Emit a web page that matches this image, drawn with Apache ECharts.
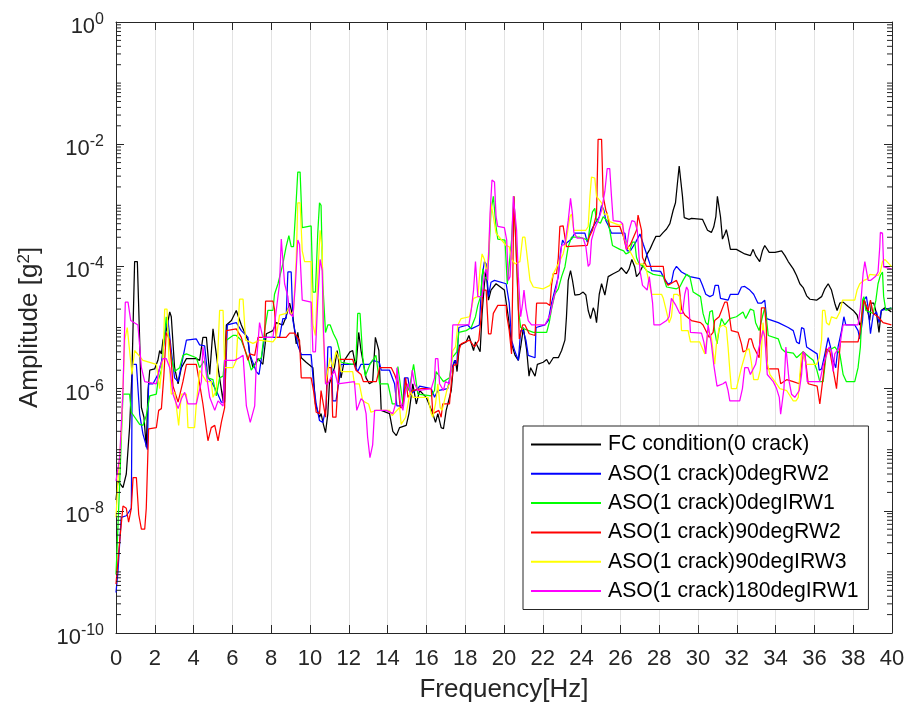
<!DOCTYPE html>
<html>
<head>
<meta charset="utf-8">
<script src="https://cdn.jsdelivr.net/npm/echarts@6/dist/echarts.min.js"></script>
<style>
html, body { margin: 0; padding: 0; background: #ffffff; }
#chart { width: 910px; height: 716px; }
</style>
</head>
<body>
<div id="chart"></div>
<script>
// Spectrum amplitude per test condition: [frequency Hz, amplitude g^2]
const seriesNames = [
  'FC condition(0 crack)',
  'ASO(1 crack)0degRW2',
  'ASO(1 crack)0degIRW1',
  'ASO(1 crack)90degRW2',
  'ASO(1 crack)90degIRW3',
  'ASO(1 crack)180degIRW1'
];
const seriesColors = ['#000000', '#0000ff', '#00ff00', '#ff0000', '#ffff00', '#ff00ff'];

const fcCondition = [
[0.0,1.5e-8],[0.10,3.1e-8],[0.36,2.4e-8],[0.53,4.0e-8],[0.70,2.3e-7],[0.82,1.7e-6],[0.96,1.2e-4],[1.10,1.2e-4],[1.22,6.2e-6],[1.31,4.9e-7],[1.44,3.4e-7],[1.56,1.1e-7],[1.65,9.3e-7],[1.74,2.0e-6],[1.99,2.1e-6],[2.16,2.9e-6],[2.25,4.2e-6],[2.34,3.7e-6],[2.42,6.2e-6],[2.59,8.9e-6],[2.77,1.8e-5],[2.85,1.5e-5],[3.02,2.2e-6],[3.20,1.2e-6],[3.37,2.2e-6],[3.63,3.1e-6],[4.14,3.1e-6],[4.31,2.9e-6],[4.48,6.9e-6],[4.66,6.9e-6],[4.83,1.7e-6],[5.00,9.5e-6],[5.09,1.0e-5],[5.26,2.2e-6],[5.52,6.3e-7],[5.69,1.1e-5],[5.95,1.3e-5],[6.20,1.9e-5],[6.29,1.8e-5],[6.46,1.1e-5],[6.80,6.2e-6],
[6.89,3.7e-6],[7.06,2.2e-6],[7.32,3.1e-6],[7.57,2.5e-6],[7.75,7.9e-6],[8.09,8.9e-6],[8.26,1.2e-5],[8.60,1.1e-5],[8.77,1.5e-5],[8.95,2.5e-5],[9.03,2.6e-5],[9.12,1.5e-5],[9.29,5.4e-6],[9.37,8.3e-6],[9.55,3.2e-6],[9.80,2.7e-6],[10.15,2.2e-6],[10.28,5.6e-7],[10.49,3.4e-7],[10.57,3.9e-7],[10.69,2.6e-7],[10.80,1.9e-7],[10.92,3.9e-7],[11.00,1.2e-6],[11.26,2.2e-6],[11.40,4.2e-6],[11.60,1.5e-6],[11.77,2.9e-6],[12.06,4.0e-6],[12.20,4.2e-6],[12.37,2.2e-6],[12.51,8.3e-6],[12.63,4.2e-6],[12.89,1.5e-6],[13.06,1.2e-6],[13.23,1.3e-6],[13.37,6.9e-6],[13.55,4.2e-6],[13.67,4.4e-7],
[14.10,3.9e-7],[14.27,2.0e-7],[14.45,1.7e-7],[14.62,2.3e-7],[14.96,2.5e-7],[15.10,3.9e-7],[15.30,1.2e-6],[15.48,5.6e-7],[15.65,9.3e-7],[15.99,7.2e-7],[16.33,3.9e-7],[16.47,2.8e-7],[16.59,3.9e-7],[16.76,2.3e-7],[16.88,2.2e-7],[17.02,4.4e-7],[17.28,9.3e-7],[17.40,2.5e-6],[17.50,2.9e-6],[17.58,1.9e-6],[17.70,5.1e-6],[18.05,5.8e-6],[18.19,7.4e-6],[18.43,4.2e-6],[18.53,5.8e-6],[18.77,4.0e-6],[18.87,1.7e-5],[18.99,5.2e-5],[19.08,8.6e-5],[19.20,2.8e-5],[19.33,4.1e-5],[19.59,5.2e-5],[20.02,4.1e-5],
[20.22,1.5e-5],[20.39,5.4e-6],[20.57,3.5e-6],[20.74,2.9e-6],[20.86,4.8e-6],[21.00,1.0e-5],[21.17,4.2e-6],[21.29,1.6e-6],[21.37,2.2e-6],[21.60,1.6e-6],[21.72,2.5e-6],[22.02,2.7e-6],[22.20,3.0e-6],[22.33,2.5e-6],[22.54,3.2e-6],[22.80,3.2e-6],[22.97,4.2e-6],[23.14,6.2e-6],[23.22,1.5e-5],[23.31,5.9e-5],[23.43,8.5e-5],[23.53,5.9e-5],[23.65,3.4e-5],[23.91,3.5e-5],[24.08,3.8e-5],[24.22,3.4e-5],[24.34,1.9e-5],[24.46,1.4e-5],[24.60,2.1e-5],[24.68,1.8e-5],[24.77,1.2e-5],[24.91,3.5e-5],[25.03,5.2e-5],[25.20,3.4e-5],[25.37,6.8e-5],[25.63,7.6e-5],[25.93,8.5e-5],[26.05,9.5e-5],[26.31,7.6e-5],[26.45,9.1e-5],[26.59,1.3e-4],[26.74,9.8e-5],[26.83,6.8e-5],[26.96,7.6e-5],
[27.26,1.2e-4],[27.38,1.6e-4],[27.52,1.9e-4],[27.69,2.5e-4],[27.83,3.1e-4],[28.03,3.1e-4],[28.21,3.6e-4],[28.38,4.1e-4],[28.55,5.0e-4],[28.72,8.3e-4],[28.84,1.1e-3],[28.94,2.3e-3],[29.03,4.4e-3],[29.11,4.3e-3],[29.20,1.4e-3],[29.29,6.3e-4],[29.54,5.9e-4],[29.66,6.1e-4],[30.23,5.9e-4],[30.49,3.9e-4],[30.69,3.6e-4],[30.81,4.4e-4],[30.92,6.5e-4],[31.00,1.4e-3],[31.07,1.4e-3],[31.16,6.5e-4],[31.26,2.8e-4],[31.38,3.4e-4],[31.46,4.0e-4],[31.55,3.0e-4],[31.67,1.9e-4],[31.98,1.9e-4],[32.41,1.6e-4],[32.70,1.5e-4],[32.84,1.9e-4],[32.97,1.5e-4],[33.18,1.2e-4],[33.32,1.8e-4],[33.44,2.2e-4],
[33.67,1.7e-4],[33.97,1.7e-4],[34.31,1.8e-4],[34.48,1.5e-4],[34.65,1.2e-4],[34.91,9.1e-5],[35.08,7.1e-5],[35.25,5.2e-5],[35.42,4.5e-5],[35.60,3.3e-5],[35.77,2.9e-5],[36.11,2.8e-5],[36.37,3.2e-5],[36.54,4.3e-5],[36.71,5.2e-5],[36.88,4.1e-5],[37.05,2.5e-5],[37.17,1.9e-5],[37.31,2.5e-5],[37.48,2.6e-5],[37.74,2.2e-5],[38.00,1.9e-5],[38.20,1.6e-5],[38.34,1.1e-5],[38.43,1.2e-5],[38.55,3.0e-5],[38.65,3.2e-5],[38.77,1.7e-5],[38.85,1.3e-5],[38.94,2.5e-5],[39.06,2.5e-5],[39.20,1.7e-5],[39.33,8.3e-6],[39.45,1.9e-5],[39.63,2.1e-5],[39.97,1.8e-5]
];

const aso0degRW2 = [
[0.0,4.6e-10],[0.10,1.0e-9],[0.27,7.8e-9],[0.53,8.3e-9],[0.79,1.1e-8],[0.84,2.5e-6],[1.05,2.5e-6],[1.22,3.8e-7],[1.39,1.8e-7],[1.62,1.0e-7],[1.68,1.2e-6],[1.91,1.2e-6],[2.16,1.7e-6],[2.34,2.7e-6],[2.59,1.1e-5],[2.68,1.3e-5],[2.85,4.2e-6],[3.02,1.5e-6],[3.20,1.3e-6],[3.45,3.2e-6],[3.63,6.2e-6],[4.14,6.5e-6],[4.31,5.2e-6],[4.57,5.0e-6],[4.74,1.5e-6],[4.91,1.3e-6],[5.17,9.3e-7],[5.43,6.0e-7],[5.60,6.0e-7],[5.74,1.1e-5],[6.20,1.2e-5],[6.46,8.9e-6],[6.80,6.9e-6],
[6.89,3.7e-6],[7.23,1.9e-6],[7.37,1.7e-6],[7.66,6.9e-6],[8.43,6.9e-6],[8.60,1.4e-5],[8.77,1.4e-5],[8.86,8.1e-5],[9.03,8.1e-5],[9.12,1.3e-5],[9.37,5.1e-6],[9.55,3.6e-6],[10.06,3.6e-6],[10.18,1.2e-6],[10.32,5.6e-7],[10.49,3.0e-7],[10.66,2.8e-7],[10.83,4.9e-7],[10.92,4.8e-6],[11.09,4.8e-6],[11.17,6.3e-7],[11.34,6.3e-7],[11.52,1.5e-6],[11.60,2.5e-6],[12.29,2.5e-6],[12.46,1.9e-6],[12.63,2.5e-6],[13.06,2.5e-6],[13.23,2.9e-6],[13.57,2.7e-6],
[13.67,2.0e-6],[14.10,2.0e-6],[14.36,1.2e-6],[14.48,5.2e-7],[14.79,5.2e-7],[14.87,1.5e-6],[15.05,1.5e-6],[15.17,8.1e-7],[15.56,1.0e-6],[15.65,1.1e-6],[16.25,1.0e-6],[16.42,7.2e-7],[16.59,9.3e-7],[17.10,1.0e-6],[17.28,2.0e-6],[17.45,2.9e-6],[17.57,2.5e-6],[17.67,1.0e-5],[18.13,1.1e-5],[18.31,9.5e-6],[18.73,1.1e-5],[18.87,6.8e-5],[18.99,1.2e-4],[19.08,1.1e-4],[19.20,3.2e-5],[19.33,5.5e-5],[19.51,5.9e-5],[20.11,5.2e-5],
[20.27,2.5e-5],[20.39,6.2e-6],[20.57,4.0e-6],[20.74,2.9e-6],[20.86,8.9e-6],[20.99,8.9e-6],[21.13,6.2e-6],[21.25,3.5e-6],[21.60,3.2e-6],[21.65,1.0e-5],[22.11,1.1e-5],[22.28,1.3e-5],[22.45,2.5e-5],[22.62,4.1e-5],[22.80,6.8e-5],[22.92,1.8e-4],[23.02,2.7e-4],[23.14,2.3e-4],[23.48,2.8e-4],[23.65,3.5e-4],[24.17,3.5e-4],[24.29,2.5e-4],[24.43,3.5e-4],[24.60,4.5e-4],[24.91,6.5e-4],[25.03,1.0e-3],[25.15,8.3e-4],[25.25,5.6e-4],[25.37,4.7e-4],[25.54,3.5e-4],[26.23,3.5e-4],[26.35,1.8e-4],[26.52,1.8e-4],[26.79,2.5e-4],
[27.01,3.4e-4],[27.18,2.3e-4],[27.35,1.6e-4],[27.52,1.1e-4],[27.61,8.5e-5],[28.07,8.3e-5],[28.21,6.8e-5],[28.46,5.1e-5],[28.63,5.5e-5],[28.75,8.5e-5],[28.89,1.0e-4],[29.15,8.1e-5],[29.58,6.8e-5],[30.09,6.3e-5],[30.23,4.9e-5],[30.40,3.5e-5],[30.61,3.2e-5],[30.78,3.4e-5],[30.88,4.9e-5],[31.05,4.9e-5],[31.16,3.0e-5],[31.55,2.8e-5],[31.67,3.5e-5],[32.07,3.5e-5],[32.24,4.6e-5],[32.41,4.7e-5],[32.67,4.1e-5],[32.87,3.5e-5],[33.09,2.5e-5],[33.27,2.5e-5],[33.44,2.8e-5],
[33.54,1.4e-5],[34.14,1.2e-5],[34.65,1.0e-5],[34.91,8.9e-6],[35.08,5.8e-6],[35.22,5.4e-6],[35.34,1.0e-5],[35.46,9.5e-6],[35.60,4.8e-6],[36.14,3.7e-6],[36.25,2.0e-6],[36.37,2.1e-6],[36.54,3.7e-6],[36.71,6.8e-6],[36.83,4.8e-6],[36.97,2.9e-6],[37.10,2.2e-6],[37.22,4.8e-6],[37.40,8.9e-6],[37.52,1.5e-5],[37.62,1.1e-5],[38.08,1.1e-5],[38.25,8.9e-6],[38.34,6.5e-6],[38.48,1.3e-5],[38.55,2.8e-5],[38.68,3.2e-5],[38.77,2.1e-5],[38.89,7.9e-6],[39.03,1.6e-5],[39.20,1.8e-5],[39.33,1.2e-5],[39.45,1.9e-5],[39.97,2.1e-5]
];

const aso0degIRW1 = [
[0.0,9.1e-10],[0.19,2.8e-8],[0.27,1.4e-7],[0.36,8.1e-7],[0.70,8.1e-7],[0.79,4.1e-7],[1.22,2.6e-7],[1.39,2.5e-7],[1.56,3.6e-7],[1.74,7.6e-7],[2.08,8.1e-7],[2.16,1.3e-6],[2.34,2.0e-6],[2.59,1.5e-5],[2.68,1.4e-5],[2.85,3.2e-6],[3.02,1.9e-6],[3.28,2.2e-6],[3.45,3.5e-6],[3.63,3.7e-6],[4.14,3.2e-6],[4.31,2.2e-6],[4.57,2.9e-6],[4.74,1.5e-6],[5.00,1.4e-6],[5.17,7.6e-7],[5.34,1.5e-6],[5.52,1.6e-6],[5.69,6.2e-6],[6.03,7.4e-6],[6.20,7.4e-6],[6.46,6.2e-6],[6.80,3.2e-6],
[6.97,2.0e-6],[7.32,2.9e-6],[7.49,3.2e-6],[7.66,8.9e-6],[7.83,1.9e-5],[8.09,1.9e-5],[8.17,3.5e-5],[8.35,5.2e-5],[8.60,1.1e-4],[8.77,2.1e-4],[8.91,3.2e-4],[9.03,2.1e-4],[9.15,2.1e-4],[9.29,1.2e-3],[9.37,3.5e-3],[9.49,3.5e-3],[9.60,4.3e-4],[10.06,4.6e-4],[10.15,3.8e-5],[10.28,3.8e-5],[10.40,3.5e-4],[10.49,1.1e-3],[10.57,1.0e-3],[10.66,5.2e-5],[10.80,8.3e-6],[10.92,1.1e-5],[11.04,1.1e-5],[11.21,7.9e-6],[11.38,6.2e-6],[11.52,4.2e-6],[11.60,2.7e-6],[12.20,2.5e-6],[12.37,2.9e-6],[12.46,1.7e-5],[12.58,1.7e-5],[12.72,3.2e-6],[12.85,1.6e-6],[13.09,2.5e-6],[13.40,3.5e-6],
[13.59,1.2e-6],[14.02,1.2e-6],[14.24,5.6e-7],[14.41,5.6e-7],[14.53,2.3e-6],[14.62,2.3e-6],[14.79,5.6e-7],[14.96,1.2e-6],[15.10,9.3e-7],[15.34,2.5e-6],[15.44,2.5e-6],[15.56,8.1e-7],[16.25,7.6e-7],[16.42,9.3e-7],[16.50,1.9e-6],[16.59,1.9e-6],[16.88,1.3e-6],[17.19,1.5e-6],[17.33,3.2e-6],[17.57,4.0e-6],[17.67,8.3e-6],[18.05,8.9e-6],[18.31,1.0e-5],[18.53,1.5e-5],[18.65,2.3e-5],[18.79,3.2e-5],[18.91,9.1e-5],[18.99,6.8e-5],[19.11,6.3e-5],[19.21,1.3e-4],[19.33,8.3e-4],[19.45,1.4e-3],[19.59,4.5e-4],[19.68,2.8e-4],[20.05,2.7e-4],
[20.17,5.1e-5],[20.27,5.2e-5],[20.39,2.7e-4],[20.51,1.4e-3],[20.62,2.1e-4],[20.74,2.0e-5],[20.86,1.0e-5],[21.51,8.3e-6],[22.20,8.3e-6],[22.33,1.2e-5],[22.45,2.0e-5],[22.62,3.5e-5],[22.80,4.3e-5],[22.97,6.8e-5],[23.14,9.8e-5],[23.31,2.1e-4],[23.48,3.0e-4],[23.91,3.0e-4],[24.34,2.7e-4],[24.43,4.7e-4],[24.56,7.8e-4],[24.68,8.9e-4],[24.77,5.6e-4],[24.97,5.1e-4],[25.11,6.5e-4],[25.37,5.4e-4],[25.45,5.6e-4],[25.59,2.2e-4],[25.97,1.9e-4],[26.17,1.8e-4],[26.28,1.6e-4],[26.45,1.7e-4],[26.62,2.5e-4],[26.74,2.5e-4],[26.83,1.4e-4],[26.96,1.1e-4],
[27.18,1.0e-4],[27.35,8.5e-5],[27.69,7.4e-5],[28.21,6.9e-5],[28.38,4.6e-5],[28.89,4.3e-5],[29.06,4.6e-5],[29.23,5.9e-5],[29.41,7.4e-5],[29.58,6.8e-5],[29.75,3.8e-5],[30.13,3.2e-5],[30.26,1.7e-5],[30.40,1.2e-5],[30.52,1.1e-5],[30.61,1.8e-5],[30.74,1.9e-5],[30.86,8.9e-6],[30.98,5.4e-6],[31.08,8.9e-6],[31.21,1.4e-5],[31.38,1.1e-5],[31.64,1.4e-5],[31.98,1.5e-5],[32.32,1.8e-5],[32.46,1.4e-5],[32.70,2.0e-5],[32.87,1.9e-5],[32.97,1.2e-5],[33.15,8.9e-6],[33.32,1.5e-5],[33.44,2.1e-5],[33.52,1.5e-5],
[33.62,7.4e-6],[34.14,6.5e-6],[34.31,4.5e-6],[34.48,4.0e-6],[34.91,3.8e-6],[35.08,3.2e-6],[35.42,4.0e-6],[35.77,3.2e-6],[35.94,2.9e-6],[36.11,2.1e-6],[36.28,1.3e-6],[36.45,1.3e-6],[36.62,4.0e-6],[37.05,4.8e-6],[37.31,3.7e-6],[37.48,1.7e-6],[37.65,1.3e-6],[38.08,1.3e-6],[38.25,2.2e-6],[38.37,4.8e-6],[38.48,2.8e-5],[38.55,3.2e-5],[38.65,1.9e-5],[39.03,1.7e-5],[39.17,2.8e-5],[39.28,5.2e-5],[39.40,7.1e-5],[39.51,8.1e-5],[39.57,3.2e-5],[39.68,1.9e-5],[39.97,2.1e-5]
];

const aso90degRW2 = [
[0.0,6.3e-10],[0.19,3.2e-9],[0.36,1.2e-8],[0.53,1.1e-8],[0.65,6.5e-9],[0.79,1.1e-8],[0.88,3.5e-8],[1.05,3.5e-8],[1.17,8.7e-9],[1.31,5.0e-9],[1.48,5.0e-9],[1.56,1.1e-8],[1.68,2.2e-7],[2.08,2.3e-7],[2.20,4.4e-7],[2.34,4.7e-7],[2.47,1.7e-6],[2.59,8.3e-6],[2.77,6.2e-6],[2.94,1.1e-6],[3.20,6.0e-7],[3.45,1.3e-6],[3.63,2.5e-6],[4.14,2.5e-6],[4.31,1.2e-6],[4.48,5.6e-7],[4.74,1.4e-7],[4.91,2.3e-7],[5.09,2.5e-7],[5.26,1.4e-7],[5.43,2.8e-7],[5.60,4.9e-7],[5.69,8.9e-6],[6.20,9.5e-6],[6.46,6.9e-6],[6.80,2.9e-6],
[6.89,3.7e-6],[7.15,3.5e-6],[7.32,6.9e-6],[7.66,6.9e-6],[7.71,2.7e-5],[8.09,2.7e-5],[8.17,2.0e-5],[8.26,6.9e-6],[8.77,6.9e-6],[8.95,8.1e-6],[9.20,8.1e-6],[9.46,6.2e-6],[9.55,1.5e-6],[10.06,1.5e-6],[10.18,9.3e-7],[10.32,4.1e-7],[10.49,3.9e-7],[10.57,9.3e-7],[10.80,3.4e-7],[10.92,2.2e-6],[11.09,2.2e-6],[11.17,3.4e-7],[11.34,3.4e-7],[11.52,3.0e-6],[12.20,3.0e-6],[12.37,2.0e-6],[12.63,1.7e-6],[12.75,1.3e-6],[12.97,1.3e-6],
[13.42,1.3e-6],[13.59,2.2e-6],[14.19,2.2e-6],[14.36,1.7e-6],[14.53,1.2e-6],[14.65,4.9e-7],[14.79,4.9e-7],[14.93,1.5e-6],[15.05,7.2e-7],[15.30,9.3e-7],[15.73,1.0e-6],[16.25,1.0e-6],[16.33,3.9e-7],[16.64,4.4e-7],[16.76,3.4e-7],[16.84,5.6e-7],[17.19,5.6e-7],[17.28,1.2e-6],[17.40,2.4e-6],[17.57,2.5e-6],[17.67,4.2e-6],[17.79,5.4e-6],[18.22,6.2e-6],[18.48,4.8e-6],[18.70,6.2e-6],[18.82,1.5e-5],[18.91,4.1e-5],[19.08,4.1e-5],[19.20,7.9e-6],[19.33,7.9e-6],[19.45,1.7e-5],[19.68,2.3e-5],[20.11,2.3e-5],
[20.14,1.6e-5],[20.27,8.9e-6],[20.39,3.7e-6],[20.45,5.2e-5],[20.51,1.4e-3],[20.60,1.4e-3],[20.69,5.9e-5],[20.79,6.5e-6],[20.86,6.5e-6],[20.96,1.1e-5],[21.08,1.1e-5],[21.30,7.9e-6],[21.60,7.4e-6],[21.68,2.5e-5],[22.20,2.5e-5],[22.37,2.3e-5],[22.45,4.9e-5],[22.54,7.6e-5],[22.71,7.6e-5],[22.80,1.4e-4],[22.88,4.5e-4],[23.05,4.6e-4],[23.14,3.0e-4],[23.22,2.1e-4],[24.29,2.2e-4],[24.39,3.0e-4],[24.56,3.9e-4],[24.77,7.2e-4],[24.85,1.2e-2],[25.03,1.2e-2],[25.11,1.4e-3],[25.25,8.3e-4],[25.32,7.2e-4],[25.45,4.5e-4],[25.97,4.5e-4],[26.17,3.0e-4],[26.31,1.9e-4],[26.52,2.3e-4],[26.83,3.9e-4],[26.91,6.9e-4],
[27.01,6.5e-4],[27.09,3.9e-4],[27.14,1.4e-4],[27.35,1.0e-4],[27.95,1.0e-4],[28.21,1.0e-4],[28.29,5.9e-5],[28.46,4.9e-5],[28.72,5.5e-5],[28.89,5.9e-5],[29.03,4.6e-5],[29.15,2.0e-5],[29.32,1.6e-5],[29.66,1.3e-5],[30.13,1.2e-5],[30.26,1.1e-5],[30.40,8.9e-6],[30.57,6.9e-6],[30.78,8.3e-6],[30.86,1.3e-5],[31.09,1.5e-5],[31.38,2.6e-5],[31.50,2.6e-5],[31.60,1.7e-5],[31.72,8.9e-6],[32.07,8.3e-6],[32.24,5.4e-6],[32.32,4.0e-6],[32.49,4.2e-6],[32.63,6.5e-6],[32.75,6.5e-6],[32.87,4.8e-6],[33.15,3.2e-6],[33.27,2.1e-5],[33.44,2.1e-5],[33.52,1.0e-5],
[33.57,2.1e-6],[34.14,2.1e-6],[34.26,1.2e-6],[34.57,1.4e-6],[34.91,1.3e-6],[35.22,1.2e-6],[35.42,4.0e-6],[35.51,3.7e-6],[35.68,1.2e-6],[36.14,1.1e-6],[36.28,5.6e-7],[36.37,5.6e-7],[36.49,2.0e-6],[36.62,4.5e-6],[36.80,4.0e-6],[36.97,2.0e-6],[37.14,1.0e-6],[37.22,1.0e-6],[37.34,5.8e-6],[38.25,5.8e-6],[38.34,7.9e-6],[38.43,1.5e-5],[38.55,2.8e-5],[38.65,2.8e-5],[38.77,1.9e-5],[38.89,2.8e-5],[39.03,1.7e-5],[39.28,1.5e-5],[39.54,1.2e-5],[39.97,1.1e-5]
];

const aso90degIRW3 = [
[0.0,7.8e-9],[0.10,3.1e-8],[0.27,1.8e-7],[0.45,6.2e-6],[0.58,1.0e-5],[0.70,4.2e-6],[0.82,1.7e-6],[0.96,4.2e-6],[1.39,2.9e-6],[2.08,2.5e-6],[2.25,1.0e-6],[2.42,3.2e-6],[2.51,2.0e-5],[2.63,2.0e-5],[2.73,3.2e-6],[2.85,8.1e-7],[3.02,8.7e-7],[3.23,2.5e-7],[3.37,8.1e-7],[3.63,8.1e-7],[3.71,2.3e-7],[4.05,2.3e-7],[4.14,5.6e-7],[4.31,2.0e-6],[4.66,1.3e-6],[4.91,1.3e-6],[5.00,7.2e-7],[5.17,9.3e-7],[5.34,1.9e-5],[5.52,1.9e-5],[5.60,2.2e-6],[6.03,2.2e-6],[6.20,2.9e-6],[6.37,2.9e-5],[6.55,2.9e-5],
[6.68,6.2e-6],[7.06,5.5e-6],[7.40,6.2e-6],[8.09,5.8e-6],[8.26,6.9e-6],[8.43,1.6e-5],[8.77,1.7e-5],[8.91,2.1e-5],[9.03,1.6e-5],[9.15,1.9e-5],[9.29,1.3e-4],[9.37,1.1e-3],[9.49,1.1e-3],[9.60,1.8e-4],[9.72,1.2e-4],[10.06,1.2e-4],[10.15,1.1e-5],[10.28,7.4e-6],[10.40,7.1e-5],[10.52,3.9e-4],[10.63,1.8e-4],[10.69,6.9e-6],[10.80,1.2e-6],[10.92,2.0e-6],[11.04,3.2e-6],[11.17,2.2e-6],[11.34,4.0e-6],[11.52,2.9e-6],[11.60,1.9e-6],[12.20,1.9e-6],[12.29,1.2e-6],[12.54,1.2e-6],[12.72,6.3e-7],[13.02,5.6e-7],[13.14,4.1e-7],
[13.42,4.4e-7],[14.10,4.4e-7],[14.24,3.6e-7],[14.48,4.4e-7],[14.62,4.9e-7],[14.70,2.6e-7],[14.79,2.5e-7],[14.93,3.4e-7],[15.05,5.6e-7],[15.17,9.3e-7],[15.30,7.2e-7],[16.08,7.2e-7],[16.25,3.9e-7],[16.33,3.4e-7],[16.47,5.6e-7],[16.59,1.2e-6],[16.71,4.9e-7],[16.81,4.4e-7],[17.05,9.3e-7],[17.19,1.2e-6],[17.28,2.2e-6],[17.36,4.2e-6],[17.50,4.8e-6],[17.62,1.1e-5],[17.79,1.4e-5],[18.22,1.5e-5],[18.31,2.0e-5],[18.43,3.0e-5],[18.65,3.2e-5],[18.77,9.1e-5],[18.87,1.6e-4],[18.99,1.3e-4],[19.11,7.6e-5],[19.21,1.8e-4],[19.33,1.1e-3],[19.45,6.5e-4],[19.59,3.5e-4],[19.76,3.0e-4],[20.11,2.2e-4],
[20.27,2.1e-4],[20.39,1.3e-4],[20.57,1.1e-4],[20.82,1.2e-4],[20.96,3.0e-4],[21.08,3.0e-4],[21.20,1.4e-4],[21.34,5.9e-5],[21.51,4.6e-5],[22.02,4.3e-5],[22.37,4.9e-5],[22.54,7.6e-5],[22.80,1.1e-4],[23.05,1.6e-4],[23.22,2.8e-4],[23.40,6.5e-4],[23.48,7.2e-4],[23.60,3.9e-4],[24.22,3.9e-4],[24.34,4.5e-4],[24.43,1.4e-3],[24.51,2.9e-3],[24.68,2.8e-3],[24.77,1.4e-3],[25.03,1.1e-3],[25.15,7.2e-4],[25.32,7.2e-4],[25.45,5.4e-4],[25.97,4.7e-4],[26.11,5.0e-4],[26.17,3.0e-4],[26.52,1.7e-4],[26.83,1.1e-4],
[27.18,1.1e-4],[27.35,8.5e-5],[27.52,4.6e-5],[27.61,3.5e-5],[28.12,3.5e-5],[28.21,3.0e-5],[28.38,1.8e-5],[28.51,1.2e-5],[28.63,1.5e-5],[28.75,3.5e-5],[28.93,3.5e-5],[29.06,3.2e-5],[29.15,8.9e-6],[29.49,8.9e-6],[29.61,5.8e-6],[30.09,5.8e-6],[30.35,3.7e-6],[30.52,8.9e-6],[30.69,6.9e-6],[30.86,2.5e-6],[30.95,5.4e-6],[31.09,1.0e-5],[31.29,1.1e-5],[31.46,1.0e-5],[31.55,4.8e-6],[31.64,2.0e-6],[31.72,1.0e-6],[31.98,1.0e-6],[32.24,2.2e-6],[32.49,4.2e-6],[32.63,4.5e-6],[32.75,2.7e-6],[32.87,1.4e-6],[33.09,1.4e-6],[33.21,2.0e-6],
[33.35,1.2e-5],[33.45,6.2e-6],[33.54,2.9e-6],[33.71,1.7e-6],[33.97,1.3e-6],[34.22,1.0e-6],[34.57,9.3e-7],[34.91,6.3e-7],[35.05,6.3e-7],[35.17,7.2e-7],[35.25,1.7e-6],[35.34,3.7e-6],[35.60,2.5e-6],[36.11,2.5e-6],[36.25,3.2e-6],[36.37,6.2e-6],[36.42,1.9e-5],[36.54,1.9e-5],[36.62,1.2e-5],[36.76,1.1e-5],[36.88,1.5e-5],[37.14,1.4e-5],[37.31,1.8e-5],[37.45,2.8e-5],[38.08,2.8e-5],[38.20,4.1e-5],[38.34,5.2e-5],[38.55,5.9e-5],[38.77,6.3e-5],[38.85,7.4e-5],[39.28,7.1e-5],[39.40,8.1e-5],[39.51,1.2e-4],[39.63,1.3e-4],[39.97,1.0e-4]
];

const aso180degIRW1 = [
[0.0,3.1e-8],[0.19,7.4e-8],[0.36,9.3e-7],[0.48,2.6e-5],[0.62,2.6e-5],[0.76,1.3e-5],[1.13,1.1e-5],[1.31,2.2e-6],[1.48,1.3e-6],[2.08,1.2e-6],[2.25,2.2e-6],[2.42,3.1e-6],[2.59,3.1e-6],[2.77,2.2e-6],[2.94,8.1e-7],[3.20,4.7e-7],[3.37,6.8e-7],[3.54,8.7e-7],[3.71,5.6e-7],[4.14,5.6e-7],[4.40,1.3e-6],[4.48,4.8e-6],[4.66,1.7e-6],[4.83,7.2e-7],[5.09,4.4e-7],[5.26,6.3e-7],[5.52,5.2e-7],[5.60,2.9e-6],[6.12,2.9e-6],[6.37,3.2e-6],[6.55,3.5e-6],
[6.72,5.2e-7],[6.92,2.8e-7],[7.15,5.2e-7],[7.23,2.5e-6],[7.40,1.2e-5],[7.49,8.9e-6],[7.57,6.9e-6],[8.09,6.9e-6],[8.26,1.9e-5],[8.43,5.2e-5],[8.52,2.8e-4],[8.60,2.7e-4],[8.69,5.2e-5],[8.86,3.2e-5],[8.95,1.7e-5],[9.12,1.5e-5],[9.25,5.2e-5],[9.37,2.7e-4],[9.46,2.3e-4],[9.60,2.8e-5],[10.06,2.6e-5],[10.15,4.0e-6],[10.28,4.0e-6],[10.40,2.8e-5],[10.52,1.3e-4],[10.63,8.5e-5],[10.69,1.0e-5],[10.80,1.2e-6],[10.92,1.2e-6],[11.26,2.0e-6],[11.43,1.2e-6],[12.29,1.3e-6],[12.41,4.4e-7],[12.63,6.8e-7],[12.75,6.3e-7],[12.89,3.9e-7],[12.97,1.6e-7],[13.09,7.4e-8],[13.23,1.2e-7],
[13.33,4.4e-7],[13.93,4.4e-7],[14.27,3.9e-7],[14.41,5.6e-7],[14.48,2.2e-6],[14.58,2.2e-6],[14.65,6.3e-7],[14.79,4.4e-7],[14.93,9.3e-7],[15.05,1.2e-6],[15.17,8.7e-7],[15.27,2.0e-6],[15.39,1.2e-6],[15.56,9.3e-7],[16.25,1.0e-6],[16.42,1.5e-6],[16.47,3.1e-6],[16.59,3.1e-6],[16.68,1.2e-6],[16.88,9.3e-7],[16.98,1.3e-6],[17.19,1.2e-6],[17.28,2.5e-6],[17.36,1.1e-5],[18.19,1.1e-5],[18.31,1.9e-5],[18.43,4.1e-5],[18.53,1.2e-4],[18.60,1.2e-4],[18.65,3.2e-5],[18.87,3.2e-5],[18.99,7.6e-5],[19.08,9.1e-5],[19.16,5.9e-5],[19.28,7.2e-4],[19.38,2.6e-3],[19.51,2.4e-3],[19.59,6.5e-4],[19.68,4.5e-4],[20.02,4.3e-4],
[20.14,2.7e-4],[20.22,5.9e-5],[20.31,6.8e-5],[20.39,2.1e-4],[20.48,1.4e-3],[20.57,1.4e-3],[20.65,3.9e-4],[20.74,6.8e-5],[20.86,1.5e-5],[20.96,2.5e-5],[21.03,4.1e-5],[21.13,2.1e-5],[21.25,1.3e-5],[21.42,1.1e-5],[22.11,1.1e-5],[22.37,1.6e-5],[22.54,2.8e-5],[22.71,4.6e-5],[22.88,1.2e-4],[22.97,2.2e-4],[23.14,2.3e-4],[23.31,5.6e-4],[23.43,1.3e-3],[23.53,7.2e-4],[23.60,3.6e-4],[23.77,2.9e-4],[24.08,2.9e-4],[24.22,2.1e-4],[24.34,1.0e-4],[24.43,1.1e-4],[24.51,2.7e-4],[24.68,4.2e-4],[24.85,5.6e-4],[25.03,8.3e-4],[25.20,1.7e-3],[25.32,4.0e-3],[25.45,4.0e-3],[25.54,1.4e-3],[25.63,5.6e-4],[26.00,5.4e-4],[26.11,5.0e-4],[26.23,2.7e-4],[26.31,1.9e-4],[26.45,3.9e-4],[26.59,5.6e-4],[26.74,5.4e-4],[26.87,3.9e-4],
[27.01,8.5e-5],[27.14,4.9e-5],[27.38,4.1e-5],[27.49,6.8e-5],[27.55,6.8e-5],[27.66,2.5e-5],[27.73,1.1e-5],[28.03,1.1e-5],[28.38,1.3e-5],[28.51,1.5e-5],[28.63,3.0e-5],[28.72,3.2e-5],[28.86,2.3e-5],[29.06,1.7e-5],[29.20,1.7e-5],[29.32,3.5e-5],[29.41,4.6e-5],[29.49,4.1e-5],[29.61,8.3e-6],[30.18,8.1e-6],[30.30,5.8e-6],[30.40,3.7e-6],[30.52,1.1e-5],[30.61,1.1e-5],[30.69,5.4e-6],[30.81,2.5e-6],[30.98,1.1e-6],[31.29,1.2e-6],[31.43,1.3e-6],[31.55,9.3e-7],[31.64,6.3e-7],[32.15,6.3e-7],[32.29,1.0e-6],[32.41,2.2e-6],[32.58,2.2e-6],[32.70,1.7e-6],[32.97,2.5e-6],[33.09,4.0e-6],[33.35,9.0e-6],
[33.45,6.9e-6],[33.57,1.7e-6],[33.88,1.3e-6],[34.05,1.0e-6],[34.19,7.2e-7],[34.26,3.8e-7],[34.36,3.8e-7],[34.43,1.0e-6],[34.53,4.8e-6],[34.60,4.8e-6],[34.70,1.3e-6],[34.82,8.1e-7],[34.99,7.2e-7],[35.22,9.3e-7],[35.34,1.7e-6],[35.42,4.0e-6],[35.51,3.7e-6],[35.63,1.3e-6],[36.28,1.3e-6],[36.45,2.4e-6],[36.62,3.5e-6],[36.76,4.8e-6],[36.88,4.2e-6],[36.97,1.9e-6],[37.05,3.7e-6],[37.31,4.8e-6],[37.40,7.9e-6],[37.48,1.1e-5],[38.25,1.1e-5],[38.37,2.1e-5],[38.51,7.6e-5],[38.60,1.2e-4],[38.68,1.2e-4],[38.77,5.9e-5],[38.89,5.9e-5],[39.16,6.9e-5],[39.28,8.1e-5],[39.37,2.1e-4],[39.40,3.6e-4],[39.51,3.5e-4],[39.57,9.8e-5],[39.97,9.1e-5]
];

const seriesData = [fcCondition, aso0degRW2, aso0degIRW1, aso90degRW2, aso90degIRW3, aso180degIRW1];

// Axis ranges and log-axis minor tick layout
const xMin = 0, xMax = 40, xStep = 2;
const yMin = 1e-10, yMax = 1;
const minorMantissas = [2, 3, 4, 5, 6, 7, 8, 9];
const oddDecades = [1e-9, 1e-7, 1e-5, 1e-3, 1e-1];

const FONT = '"Liberation Sans", Arial, Helvetica, sans-serif';
const AXIS_COLOR = '#262626';

const minorTickValues = [];
for (let k = -10; k < 0; k++) {
  minorMantissas.forEach(m => minorTickValues.push([0, m * Math.pow(10, k)]));
}
oddDecades.forEach(v => minorTickValues.push([0, v]));

function expLabel(v) {
  const e = Math.round(Math.log10(v));
  return '{b|10}{s|' + e + '}';
}

const labelRich = {
  b: { fontFamily: FONT, fontSize: 22, color: AXIS_COLOR, padding: [10, 0, 0, 0] },
  s: { fontFamily: FONT, fontSize: 16, color: AXIS_COLOR, padding: [0, 0, 5, 0] }
};

const chart = echarts.init(document.getElementById('chart'), null, { renderer: 'canvas' });

const lineSeries = seriesNames.map((name, i) => ({
  name: name,
  type: 'line',
  data: seriesData[i],
  color: seriesColors[i],
  showSymbol: false,
  symbol: 'none',
  lineStyle: { width: 1.25, color: seriesColors[i] },
  emphasis: { disabled: true },
  animation: false,
  z: 2 + i
}));

// Minor ticks of the log axis (inside, on both left and right frame edges)
const minorTickSeries = {
  type: 'custom',
  name: 'minorTicks',
  data: minorTickValues,
  silent: true,
  animation: false,
  z: 20,
  renderItem: function (params, api) {
    const y = api.coord([xMin, api.value(1)])[1];
    const cs = params.coordSys;
    const style = { stroke: AXIS_COLOR, lineWidth: 1 };
    return {
      type: 'group',
      children: [
        { type: 'line', shape: { x1: cs.x, y1: y, x2: cs.x + 5, y2: y }, style: style },
        { type: 'line', shape: { x1: cs.x + cs.width - 5, y1: y, x2: cs.x + cs.width, y2: y }, style: style }
      ]
    };
  }
};

const option = {
  backgroundColor: '#ffffff',
  animation: false,
  grid: { left: 116, right: 18, top: 22, bottom: 83, containLabel: false, outerBoundsMode: 'none' },
  legend: {
    data: seriesNames,
    orient: 'vertical',
    left: 523,
    top: 426,
    padding: [8, 10, 8, 8],
    itemWidth: 70,
    itemHeight: 2,
    itemGap: 8.3,
    icon: 'rect',
    backgroundColor: '#ffffff',
    borderColor: AXIS_COLOR,
    borderWidth: 1,
    borderRadius: 0,
    selectedMode: false,
    textStyle: { fontFamily: FONT, fontSize: 21.2, color: '#000000', lineHeight: 20.3, padding: [0, 0, 0, 2] }
  },
  xAxis: [{
    type: 'value',
    position: 'bottom',
    min: xMin, max: xMax, interval: xStep,
    axisLine: { show: true, onZero: false, lineStyle: { color: AXIS_COLOR, width: 1 } },
    axisTick: { show: true, inside: true, length: 8, lineStyle: { color: AXIS_COLOR, width: 1 } },
    axisLabel: { interval: 0, margin: 15, fontFamily: FONT, fontSize: 22, color: AXIS_COLOR },
    splitLine: { show: true, lineStyle: { color: '#e3e3e3', width: 1 } },
    name: 'Frequency[Hz]',
    nameLocation: 'middle',
    nameGap: 44,
    nameTextStyle: { fontFamily: FONT, fontSize: 26, color: AXIS_COLOR }
  }, {
    type: 'value',
    position: 'top',
    min: xMin, max: xMax, interval: xStep,
    axisLine: { show: true, onZero: false, lineStyle: { color: AXIS_COLOR, width: 1 } },
    axisTick: { show: true, inside: true, length: 8, lineStyle: { color: AXIS_COLOR, width: 1 } },
    axisLabel: { show: false },
    splitLine: { show: false }
  }],
  yAxis: [{
    type: 'log',
    logBase: 10,
    position: 'left',
    min: yMin, max: yMax, interval: 2,
    axisLine: { show: true, onZero: false, lineStyle: { color: AXIS_COLOR, width: 1 } },
    axisTick: { show: true, inside: true, length: 8, lineStyle: { color: AXIS_COLOR, width: 1 } },
    axisLabel: { margin: 12, formatter: expLabel, rich: labelRich, align: 'right' },
    splitLine: { show: false },
    minorTick: { show: false },
    name: '{a|Amplitude [g}{s|2}{a|]}',
    nameLocation: 'middle',
    nameGap: 72,
    nameTextStyle: {
      rich: {
        a: { fontFamily: FONT, fontSize: 26, color: AXIS_COLOR },
        s: { fontFamily: FONT, fontSize: 17, color: AXIS_COLOR, padding: [0, 0, 11, 0] }
      }
    }
  }, {
    type: 'log',
    logBase: 10,
    position: 'right',
    min: yMin, max: yMax, interval: 2,
    axisLine: { show: true, onZero: false, lineStyle: { color: AXIS_COLOR, width: 1 } },
    axisTick: { show: true, inside: true, length: 8, lineStyle: { color: AXIS_COLOR, width: 1 } },
    axisLabel: { show: false },
    splitLine: { show: false }
  }],
  series: lineSeries.concat([minorTickSeries])
};

chart.setOption(option);
</script>
</body>
</html>
